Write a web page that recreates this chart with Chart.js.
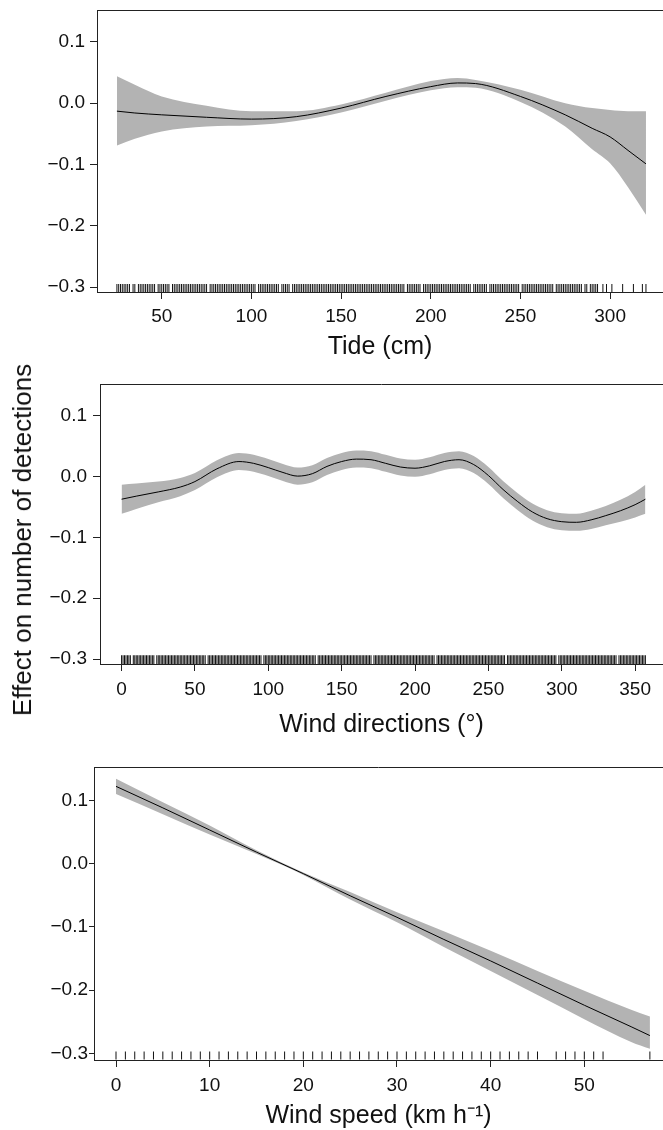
<!DOCTYPE html>
<html lang="en">
<head>
    <meta charset="UTF-8">
    <title>GAM partial effects</title>
    <script src="https://cdn.jsdelivr.net/npm/chart.js"></script>
    <style>
        * { margin: 0; padding: 0; box-sizing: border-box; }
        body { background: #fff; width: 663px; height: 1130px; position: relative; overflow: hidden; }
        canvas { position: absolute; left: 0; }
        #c1 { top: 0; }
        #c2 { top: 365px; }
        #c3 { top: 745px; }
        .ytitle {
            position: absolute; left: 22px; top: 540px;
            transform: translate(-50%, -50%) rotate(-90deg);
            font: 26px/1 "Liberation Sans", Arial, sans-serif;
            color: #111; white-space: nowrap;
        }
    </style>
</head>
<body>
    <canvas id="c1" width="663" height="365"></canvas>
    <canvas id="c2" width="663" height="380"></canvas>
    <canvas id="c3" width="663" height="385"></canvas>
    <div class="ytitle">Effect on number of detections</div>

    <script>
        // ---- data ----
        const yTicks = [0.1, 0, -0.1, -0.2, -0.3];

        // Tide (cm)
        const tideTicks = [50, 100, 150, 200, 250, 300];
        const tideX     = [25, 35, 50, 75, 100, 125, 150, 175, 200, 215, 225, 250, 275, 290, 300, 310, 320];
        const tideFit   = [-0.013, -0.016, -0.019, -0.023, -0.026, -0.022, -0.008, 0.011, 0.027, 0.033, 0.032, 0.011, -0.019, -0.041, -0.055, -0.077, -0.099];
        const tideUpper = [0.044, 0.030, 0.011, -0.004, -0.013, -0.013, -0.002, 0.017, 0.036, 0.041, 0.038, 0.022, 0.000, -0.008, -0.011, -0.013, -0.013];
        const tideLower = [-0.069, -0.058, -0.046, -0.038, -0.036, -0.029, -0.015, 0.004, 0.021, 0.026, 0.025, 0.002, -0.038, -0.075, -0.098, -0.137, -0.182];
        const tideRug = [
            25,26,27,28,29,30,31,32,34,35,37,38,39,40,41,42,43,44,45,46,48,49,50,51,52,53,54,56,57,58,59,60,
            61,62,63,64,65,66,67,68,69,70,71,72,73,74,75,77,78,79,80,81,82,83,84,85,86,87,88,89,90,91,92,93,
            94,95,96,97,98,99,100,101,102,104,105,106,107,108,109,110,111,112,113,114,115,117,118,119,120,121,
            123,124,125,126,127,128,129,130,131,132,133,134,135,136,137,138,139,140,141,142,143,144,145,146,
            147,148,149,150,151,152,153,154,155,156,157,158,159,160,161,162,163,164,165,166,167,168,169,170,
            171,172,173,174,175,176,177,178,179,180,181,182,183,184,185,187,188,189,190,191,192,193,194,196,
            197,198,199,200,201,202,203,204,205,206,207,208,209,210,211,212,213,214,215,216,217,218,219,220,
            221,222,224,225,226,227,228,229,230,231,233,234,235,236,237,238,239,240,241,242,243,244,245,246,
            247,248,249,251,252,253,254,255,256,257,258,259,260,261,262,263,264,265,266,267,268,270,271,272,
            273,274,275,276,277,278,279,280,281,282,283,284,286,287,289,290,291,292,293,296,298,301,307,313,318,320
        ];

        // Wind directions (deg)
        const dirTicks = [0, 50, 100, 150, 200, 250, 300, 350];
        const dirX     = [0, 10, 25, 40, 50, 65, 80, 90, 100, 110, 120, 130, 140, 150, 160, 170, 180, 190, 200, 210, 220, 230, 240, 250, 260, 270, 280, 290, 300, 310, 320, 330, 340, 350, 357];
        const dirFit   = [-0.037, -0.032, -0.025, -0.017, -0.008, 0.013, 0.025, 0.022, 0.015, 0.007, 0.001, 0.005, 0.017, 0.025, 0.029, 0.028, 0.022, 0.016, 0.014, 0.018, 0.025, 0.028, 0.020, 0.002, -0.021, -0.041, -0.058, -0.069, -0.074, -0.075, -0.071, -0.064, -0.056, -0.046, -0.037];
        const dirUpper = [-0.013, -0.011, -0.008, -0.002, 0.006, 0.027, 0.039, 0.036, 0.029, 0.021, 0.015, 0.019, 0.031, 0.039, 0.043, 0.042, 0.036, 0.030, 0.028, 0.032, 0.039, 0.042, 0.034, 0.016, -0.007, -0.027, -0.044, -0.055, -0.060, -0.061, -0.056, -0.048, -0.038, -0.025, -0.013];
        const dirLower = [-0.061, -0.053, -0.042, -0.032, -0.022, -0.001, 0.011, 0.008, 0.001, -0.007, -0.013, -0.009, 0.003, 0.011, 0.015, 0.014, 0.008, 0.002, 0.000, 0.004, 0.011, 0.014, 0.006, -0.012, -0.035, -0.055, -0.072, -0.083, -0.088, -0.089, -0.086, -0.080, -0.074, -0.067, -0.061];
        const dirRug = [
            0,1,2,3,4,5,6,8,9,10,11,12,13,14,15,16,17,18,19,20,21,22,24,25,26,27,28,29,30,31,32,33,34,35,36,
            37,38,39,40,41,42,43,44,45,46,47,48,49,50,51,52,53,54,55,56,57,59,60,61,62,63,64,65,66,67,68,69,
            70,71,72,73,74,75,76,77,78,79,80,81,82,83,84,85,86,87,88,89,90,91,92,93,94,95,97,98,99,100,101,
            102,103,104,105,106,107,108,109,110,111,112,113,114,115,116,117,118,119,120,121,122,123,124,125,
            126,127,128,129,130,131,132,134,135,136,137,138,139,140,141,142,143,144,145,146,147,148,149,150,
            151,152,153,154,155,156,157,158,159,160,161,162,163,164,165,166,167,168,169,170,172,173,174,175,
            176,177,178,179,180,181,182,183,184,185,186,187,188,189,190,191,192,193,194,195,196,197,198,199,
            200,201,202,203,204,205,206,207,208,209,210,211,212,213,215,216,217,218,219,220,221,222,223,224,
            225,226,227,228,229,230,231,232,233,234,235,236,237,238,239,240,241,242,243,244,245,246,247,248,
            249,250,251,252,253,254,255,256,257,258,259,260,261,263,264,265,266,267,268,269,270,271,272,273,
            274,275,276,277,278,279,280,281,282,283,284,285,286,287,288,289,290,291,292,293,294,295,296,298,
            299,300,301,302,303,304,305,306,307,308,309,310,311,312,313,314,315,316,317,318,319,320,321,322,
            323,324,325,326,327,328,329,330,331,332,333,334,335,336,337,339,340,341,342,343,344,345,346,347,
            348,349,350,351,352,353,354,355,356,357
        ];

        // Wind speed (km/h)
        const spdTicks = [0, 10, 20, 30, 40, 50];
        const spdX     = [0, 5, 10, 15, 20, 25, 30, 35, 40, 45, 50, 55, 57];
        const spdFit   = [0.122, 0.088, 0.053, 0.018, -0.016, -0.051, -0.085, -0.120, -0.154, -0.189, -0.224, -0.258, -0.272];
        const spdUpper = [0.134, 0.097, 0.060, 0.021, -0.014, -0.045, -0.077, -0.107, -0.138, -0.170, -0.201, -0.231, -0.242];
        const spdLower = [0.110, 0.078, 0.046, 0.015, -0.018, -0.057, -0.093, -0.132, -0.170, -0.208, -0.246, -0.282, -0.293];
        const spdRug = [
            0,1,2,3,4,5,6,7,8,9,10,11,12,13,14,15,16,17,18,19,20,21,22,23,24,25,26,27,28,29,30,31,32,33,34,
            35,36,37,38,39,40,41,42,43,44,45,47,48,49,50,51,52,57
        ];

        // ---- drawing ----
        Chart.defaults.font.family = '"Liberation Sans", Arial, sans-serif';
        Chart.defaults.color = '#111';

        const AXIS = '#222';

        // top edge of the plot box (R draws a box, the right side is cropped)
        const frameTop = {
            id: 'frameTop',
            afterDraw(chart) {
                const { ctx, chartArea: a } = chart;
                ctx.save();
                ctx.strokeStyle = AXIS;
                ctx.lineWidth = 1;
                ctx.beginPath();
                ctx.moveTo(a.left, a.top + 0.5);
                ctx.lineTo(a.right, a.top + 0.5);
                ctx.stroke();
                ctx.restore();
            }
        };

        function pts(xs, ys) {
            return xs.map((x, i) => ({ x: x, y: ys[i] }));
        }

        function fmtY(v) {
            if (Math.abs(v) < 1e-9) return '0.0';
            return (v < 0 ? '\u2212' : '') + Math.abs(v).toFixed(1);
        }

        // no extra room for overhanging labels, the box is placed by hand
        function noPad(s) {
            s.paddingLeft = 0; s.paddingRight = 0;
            s.paddingTop = 0; s.paddingBottom = 0;
        }

        function panel(id, p) {
            new Chart(document.getElementById(id), {
                type: 'line',
                data: {
                    datasets: [
                        {   // fitted smooth
                            data: pts(p.x, p.fit),
                            borderColor: '#000', borderWidth: 1,
                            pointRadius: 0, cubicInterpolationMode: 'monotone', fill: false
                        },
                        {   // rug
                            data: p.rug.map(v => ({ x: v, y: p.rugY })),
                            showLine: false,
                            pointStyle: 'line', pointRotation: 90,
                            pointRadius: p.rugR, pointHoverRadius: p.rugR,
                            pointBorderColor: '#111', pointBorderWidth: 1
                        },
                        {   // confidence band
                            data: pts(p.x, p.upper),
                            borderWidth: 0, borderColor: 'rgba(0,0,0,0)',
                            pointRadius: 0, cubicInterpolationMode: 'monotone',
                            fill: '+1', backgroundColor: '#b3b3b3'
                        },
                        {
                            data: pts(p.x, p.lower),
                            borderWidth: 0, borderColor: 'rgba(0,0,0,0)',
                            pointRadius: 0, cubicInterpolationMode: 'monotone', fill: false
                        }
                    ]
                },
                options: {
                    responsive: false,
                    animation: false,
                    events: [],
                    layout: { autoPadding: false, padding: { top: p.padTop, right: 0, left: 0, bottom: 0 } },
                    plugins: { legend: { display: false }, tooltip: { enabled: false } },
                    scales: {
                        x: {
                            type: 'linear', min: p.xmin, max: p.xmax,
                            afterBuildTicks: s => { s.ticks = p.xticks.map(v => ({ value: v })); },
                            afterFit: s => { s.height = p.xh; noPad(s); },
                            grid: { drawOnChartArea: false, drawTicks: true, tickLength: 7, color: AXIS },
                            border: { color: AXIS, width: 1 },
                            ticks: { font: { size: 19 }, padding: p.xpad, maxRotation: 0, autoSkip: false, color: '#111' },
                            title: {
                                display: true, text: p.title, color: '#111',
                                font: { size: 25, lineHeight: 1 },
                                padding: { top: 0, bottom: p.titlePad }
                            }
                        },
                        y: {
                            type: 'linear', min: p.ymin, max: p.ymax,
                            afterBuildTicks: s => { s.ticks = yTicks.map(v => ({ value: v })); },
                            afterFit: s => { s.width = p.yw; noPad(s); },
                            grid: { drawOnChartArea: false, drawTicks: true, tickLength: p.ytl, color: AXIS },
                            border: { color: AXIS, width: 1 },
                            ticks: { font: { size: 19 }, padding: p.ypad, callback: fmtY, color: '#111' }
                        }
                    }
                },
                plugins: [frameTop]
            });
        }

        panel('c1', {
            x: tideX, fit: tideFit, upper: tideUpper, lower: tideLower, rug: tideRug,
            rugY: -0.3015, rugR: 4,
            xmin: 13.9, xmax: 329.5, ymin: -0.308, ymax: 0.152, xticks: tideTicks,
            padTop: 10, xh: 73, yw: 97, xpad: 6.5, ytl: 7, ypad: 5,
            title: 'Tide (cm)', titlePad: 5.5
        });

        panel('c2', {
            x: dirX, fit: dirFit, upper: dirUpper, lower: dirLower, rug: dirRug,
            rugY: -0.3012, rugR: 4.5,
            xmin: -14.7, xmax: 369, ymin: -0.3082, ymax: 0.1526, xticks: dirTicks,
            padTop: 19, xh: 81, yw: 100, xpad: 7, ytl: 7, ypad: 6,
            title: 'Wind directions (\u00B0)', titlePad: 7.5
        });

        panel('c3', {
            x: spdX, fit: spdFit, upper: spdUpper, lower: spdLower, rug: spdRug,
            rugY: -0.3035, rugR: 4,
            xmin: -2.35, xmax: 58.4, ymin: -0.3106, ymax: 0.1526, xticks: spdTicks,
            padTop: 22, xh: 70, yw: 94, xpad: 7, ytl: 5, ypad: 1,
            title: 'Wind speed (km h\u207B\u00B9)', titlePad: 1
        });
    </script>
</body>
</html>
